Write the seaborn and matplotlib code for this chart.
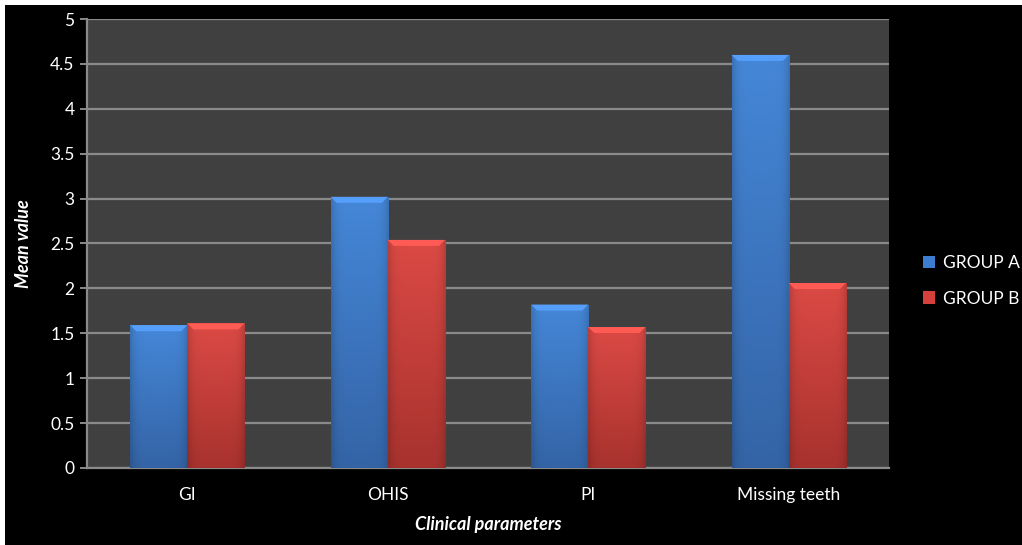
import numpy as np
import pandas as pd
import matplotlib
matplotlib.use("Agg")
import matplotlib.pyplot as plt
import matplotlib.patches as mpatches
import seaborn as sns

# Données
categories = ["GI", "OHIS", "PI", "Missing teeth"]
group_a = [1.59, 3.02, 1.82, 4.60]
group_b = [1.61, 2.54, 1.57, 2.06]
groups = ["GROUP A", "GROUP B"]

df = pd.DataFrame({
    "param": categories * 2,
    "value": group_a + group_b,
    "group": [groups[0]] * len(categories) + [groups[1]] * len(categories),
})

sns.set_style("dark")
plt.rcParams["font.family"] = ["Lato", "DejaVu Sans"]

fig = plt.figure(figsize=(10.22, 5.45), dpi=100, facecolor="white")
# fond noir (petite marge blanche en haut et à gauche comme sur l'image)
fig.patches.append(mpatches.Rectangle((5 / 1022, 0), 1, 540 / 545, transform=fig.transFigure,
                                      facecolor="black", edgecolor="none", zorder=-10))

ax = fig.add_axes([87 / 1022, 1 - 468 / 545, (889 - 87) / 1022, (468 - 19) / 545])
ax.set_facecolor("#404040")

colors = {"GROUP A": "#3d7dcf", "GROUP B": "#d4403c"}
sns.barplot(data=df, x="param", y="value", hue="group", order=categories, hue_order=groups,
            palette=colors, width=0.57, gap=0, ax=ax, legend=False, zorder=3,
            edgecolor="none")

# dégradé vertical sur chaque barre
grad = {
    "GROUP A": ("#4587d8", "#3464a6"),
    "GROUP B": ("#dc4a45", "#a8322e"),
}
px = 89.8  # pixels par unité sur l'axe y
for i, patch in enumerate(ax.patches):
    g = groups[i // len(categories)]
    top_c = np.array(matplotlib.colors.to_rgb(grad[g][0]))
    bot_c = np.array(matplotlib.colors.to_rgb(grad[g][1]))
    x0, y0 = patch.get_x(), patch.get_y()
    w, h = patch.get_width(), patch.get_height()
    t = np.linspace(0, 1, 100)[:, None]
    s = np.linspace(0, 1, 40)[None, :]
    edge = 1 - 0.15 * (np.abs(s - 0.5) * 2) ** 6
    img = (top_c[None, None, :] * (1 - t[..., None]) + bot_c[None, None, :] * t[..., None]) * edge[..., None]
    im = ax.imshow(np.clip(img, 0, 1), extent=[x0, x0 + w, y0, y0 + h], aspect="auto",
                   origin="upper", zorder=4)
    im.set_clip_path(patch)
    # biseau clair en haut de la barre
    bev = 6 / px
    light = np.clip(top_c * 1.12 + 0.03, 0, 1)
    ax.add_patch(mpatches.Polygon([[x0, y0 + h], [x0 + w, y0 + h],
                                   [x0 + w - 0.03, y0 + h - bev], [x0 + 0.03, y0 + h - bev]],
                                  closed=True, facecolor=light, edgecolor="none", zorder=5))

ax.set_xlim(-0.5, 3.5)
ax.set_ylim(0, 5)
ax.set_yticks(np.arange(0, 5.01, 0.5))
ax.set_yticklabels(["0", "0.5", "1", "1.5", "2", "2.5", "3", "3.5", "4", "4.5", "5"])
ax.grid(axis="y", color="#8a8a8a", linewidth=1.6, zorder=1)
ax.grid(axis="x", visible=False)
ax.set_axisbelow(True)

for side in ["top", "right"]:
    ax.spines[side].set_visible(False)
for side in ["left", "bottom"]:
    ax.spines[side].set_visible(True)
    ax.spines[side].set_color("#8a8a8a")
    ax.spines[side].set_linewidth(1.6)

ax.tick_params(axis="y", colors="#8a8a8a", labelcolor="white", length=5, width=1.4,
               labelsize=12.5, left=True, pad=4)
ax.tick_params(axis="x", colors="white", length=0, labelsize=12.5, pad=14)

ax.set_xlabel("Clinical parameters", color="white", fontsize=13, fontweight="bold",
              fontstyle="italic", labelpad=9)
ax.set_ylabel("Mean value", color="white", fontsize=13, fontweight="bold",
              fontstyle="italic", labelpad=13)

# légende à droite
handles = [mpatches.Patch(facecolor=colors[g], edgecolor="none", label=g) for g in groups]
fig.legend(handles=handles, loc="center left", bbox_to_anchor=(907 / 1022, 1 - 281 / 545),
           frameon=False, fontsize=12.5, labelcolor="white", handlelength=0.7, handleheight=0.7,
           handletextpad=0.5, labelspacing=1.1)

fig.savefig("out.png", dpi=100, facecolor=fig.get_facecolor())
plt.close(fig)
